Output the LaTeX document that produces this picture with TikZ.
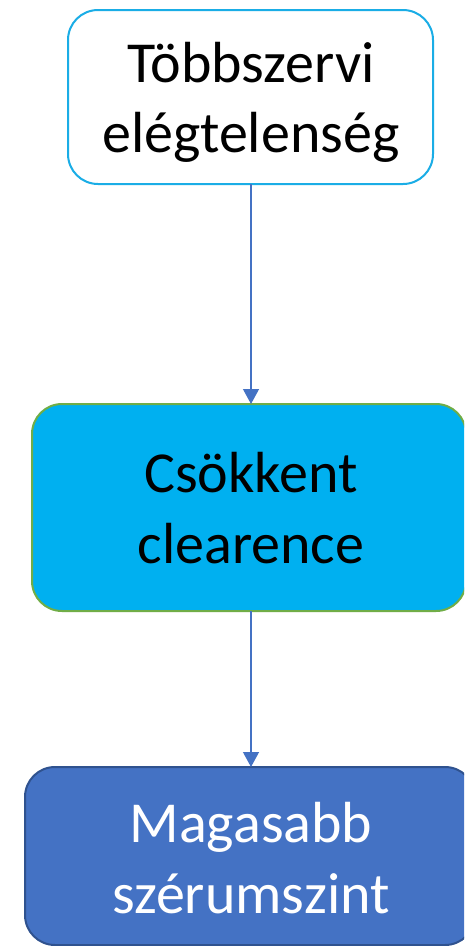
\documentclass[tikz,border=0pt]{standalone}
\usepackage{fontspec}
\setmainfont{Carlito}
\usetikzlibrary{arrows.meta}
\definecolor{boxcyan}{HTML}{1AADE6}
\definecolor{fillcyan}{HTML}{00B0F0}
\definecolor{edgegreen}{HTML}{70AD47}
\definecolor{fillblue}{HTML}{4472C4}
\definecolor{edgeblue}{HTML}{2F528F}
\tikzset{
  x=1pt,y=-1pt,
  boxshape/.style={rounded corners=30pt, line width=2pt},
  lbl/.style={anchor=base, inner sep=0pt, font=\fontsize{58}{70}\selectfont},
  conn/.style={draw=fillblue, line width=1.2pt, -{Triangle[width=16pt,length=15pt]}},
}
\begin{document}
\begin{tikzpicture}
\clip (0,0) rectangle (464,946);
\fill[white] (0,0) rectangle (464,946);
% boxes
\draw[boxshape, draw=boxcyan, fill=white] (68,10) rectangle (433,184);
\draw[boxshape, draw=edgegreen, fill=fillcyan] (32,404) rectangle (466,611);
\draw[boxshape, draw=edgeblue, fill=fillblue] (25,767) rectangle (475,945);
\coordinate (b1) at (251,184);
\coordinate (t2) at (251,404);
\coordinate (b2) at (251,611);
\coordinate (t3) at (251,767);
% texts
\node[lbl] (a1) at (251,82) {Többszervi};
\node[lbl] (a2) at (251,152) {elégtelenség};
\node[lbl] (c1) at (251,492) {Csökkent};
\node[lbl] (c2) at (251,563) {clearence};
\node[lbl, text=white] (m1) at (251,842) {Magasabb};
\node[lbl, text=white] (m2) at (251,913) {szérumszint};
% connectors
\draw[conn] (b1) -- (t2);
\draw[conn] (b2) -- (t3);
\end{tikzpicture}
\end{document}
